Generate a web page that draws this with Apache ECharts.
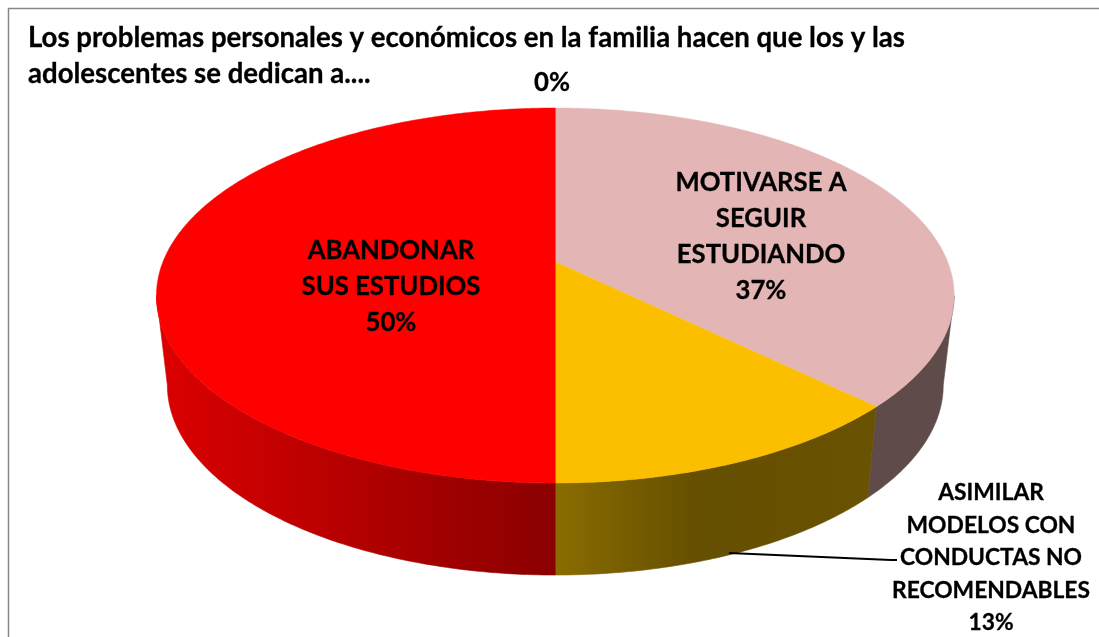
<!DOCTYPE html>
<html>
<head>
<meta charset="utf-8">
<style>html,body{margin:0;padding:0;background:#fff}#c{width:1099px;height:637px}</style>
<script src="https://cdn.jsdelivr.net/npm/echarts@6/dist/echarts.min.js"></script>
</head>
<body>
<div id="c"></div>
<script>
// ---- data ----
const categories = ['MOTIVARSE A\nSEGUIR\nESTUDIANDO', 'ASIMILAR\nMODELOS CON\nCONDUCTAS NO\nRECOMENDABLES', 'ABANDONAR\nSUS ESTUDIOS', ''];
const values = [37.3, 12.7, 50, 0];
const titleLines = ['Los problemas personales y económicos en la familia hacen que los y las', 'adolescentes se dedican a....'];

// ---- layout and style ----
const FONT = 'Lato, Carlito, Calibri, sans-serif';
const topFace = { cx: 555.3, cy: 262, a: 392.4, b: 181.5 };
const lowFace = { cx: 555.3, cy: 351, a: 381.7, b: 184 };
const tilt = 0.1787;
const faceColors = ['#e3b6b5', '#fcbf00', '#ff0000', '#fcbf00'];
const wallFills = [
  '#5e4b4a',
  { type: 'linear', x: 555, y: 0, x2: 870, y2: 0, global: true, colorStops: [
    { offset: 0, color: '#8a6c00' }, { offset: 0.45, color: '#654f00' }, { offset: 1, color: '#695200' } ] },
  { type: 'linear', x: 160, y: 0, x2: 555, y2: 0, global: true, colorStops: [
    { offset: 0, color: '#dc0000' }, { offset: 1, color: '#8a0000' } ] },
  '#5e4b4a'
];
const labelSpots = [
  { x: 761, y: 237, size: 25.7, lh: 36 },
  { x: 991, y: 558, size: 22.8, lh: 32.5 },
  { x: 391, y: 287, size: 25.7, lh: 36 },
  { x: 552, y: 83, size: 25.7, lh: 36 }
];

// ---- geometry from values ----
const total = values.reduce((s, v) => s + v, 0);
const startOf = i => values.slice(0, i).reduce((s, v) => s + v, 0) / total * 2 * Math.PI;
const project = (f, t) => {
  const u = Math.sin(t), v = -Math.cos(t), w = 1 - tilt * v;
  return [f.cx + f.a * u / w, f.cy + f.b * v / w];
};
const arc = (f, t0, t1) => {
  const n = Math.max(2, Math.ceil(Math.abs(t1 - t0) / 0.01)), pts = [];
  for (let k = 0; k <= n; k++) pts.push(project(f, t0 + (t1 - t0) * k / n));
  return pts;
};
const limit = Math.acos(-tilt);   // where the side wall leaves the silhouette

function renderWall(params, api) {
  const i = params.dataIndex;
  const t0 = Math.max(startOf(i), limit);
  const t1 = Math.min(startOf(i) + api.value(1) / total * 2 * Math.PI, 2 * Math.PI - limit);
  if (t1 <= t0) return { type: 'group', children: [] };
  const pts = arc(topFace, t0, t1).concat(arc(lowFace, t1, t0));
  return { type: 'polygon', shape: { points: pts },
    style: { fill: wallFills[i], stroke: wallFills[i], lineWidth: 0.6 } };
}
function renderFace(params, api) {
  const i = params.dataIndex;
  const t0 = startOf(i), t1 = t0 + api.value(1) / total * 2 * Math.PI;
  if (t1 <= t0) return { type: 'group', children: [] };
  const pts = [[topFace.cx, topFace.cy]].concat(arc(topFace, t0, t1));
  return { type: 'polygon', shape: { points: pts },
    style: { fill: faceColors[i], stroke: faceColors[i], lineWidth: 0.5 } };
}
function renderLabel(params, api) {
  const i = params.dataIndex, s = labelSpots[i];
  const pct = Math.round(api.value(1) / total * 100) + '%';
  const text = categories[i] ? categories[i] + '\n' + pct : pct;
  return { type: 'text', style: {
    text, x: s.x, y: s.y, align: 'center', verticalAlign: 'middle',
    font: 'bold ' + s.size + 'px ' + FONT, lineHeight: s.lh, fill: '#000',
    stroke: '#000', lineWidth: 0.3 } };
}
const rows = values.map((v, i) => [i, v]);
const chart = echarts.init(document.getElementById('c'), null, { renderer: 'canvas' });
chart.setOption({
  animation: false,
  backgroundColor: '#ffffff',
  title: {
    text: titleLines.join('\n'), left: 23, top: 15,
    textStyle: { fontFamily: FONT, fontWeight: 'bold', fontSize: 27.6, lineHeight: 36, color: '#000',
      textBorderColor: '#000', textBorderWidth: 0.3 }
  },
  graphic: [
    { type: 'polyline', z: 0, shape: { points: [[8.5, 640], [8.5, 8.5], [1102, 8.5]] },
      style: { fill: 'none', stroke: '#868686', lineWidth: 1.5 } },
    { type: 'polyline', z: 10, shape: { points: [[729, 553], [891, 560], [897, 560]] },
      style: { fill: 'none', stroke: '#000', lineWidth: 1.8 } }
  ],
  series: [
    { type: 'custom', coordinateSystem: 'none', data: rows, renderItem: renderWall, z: 2, silent: true },
    { type: 'custom', coordinateSystem: 'none', data: rows, renderItem: renderFace, z: 3, silent: true },
    { type: 'custom', coordinateSystem: 'none', data: rows, renderItem: renderLabel, z: 4, silent: true }
  ]
});
</script>
</body>
</html>
